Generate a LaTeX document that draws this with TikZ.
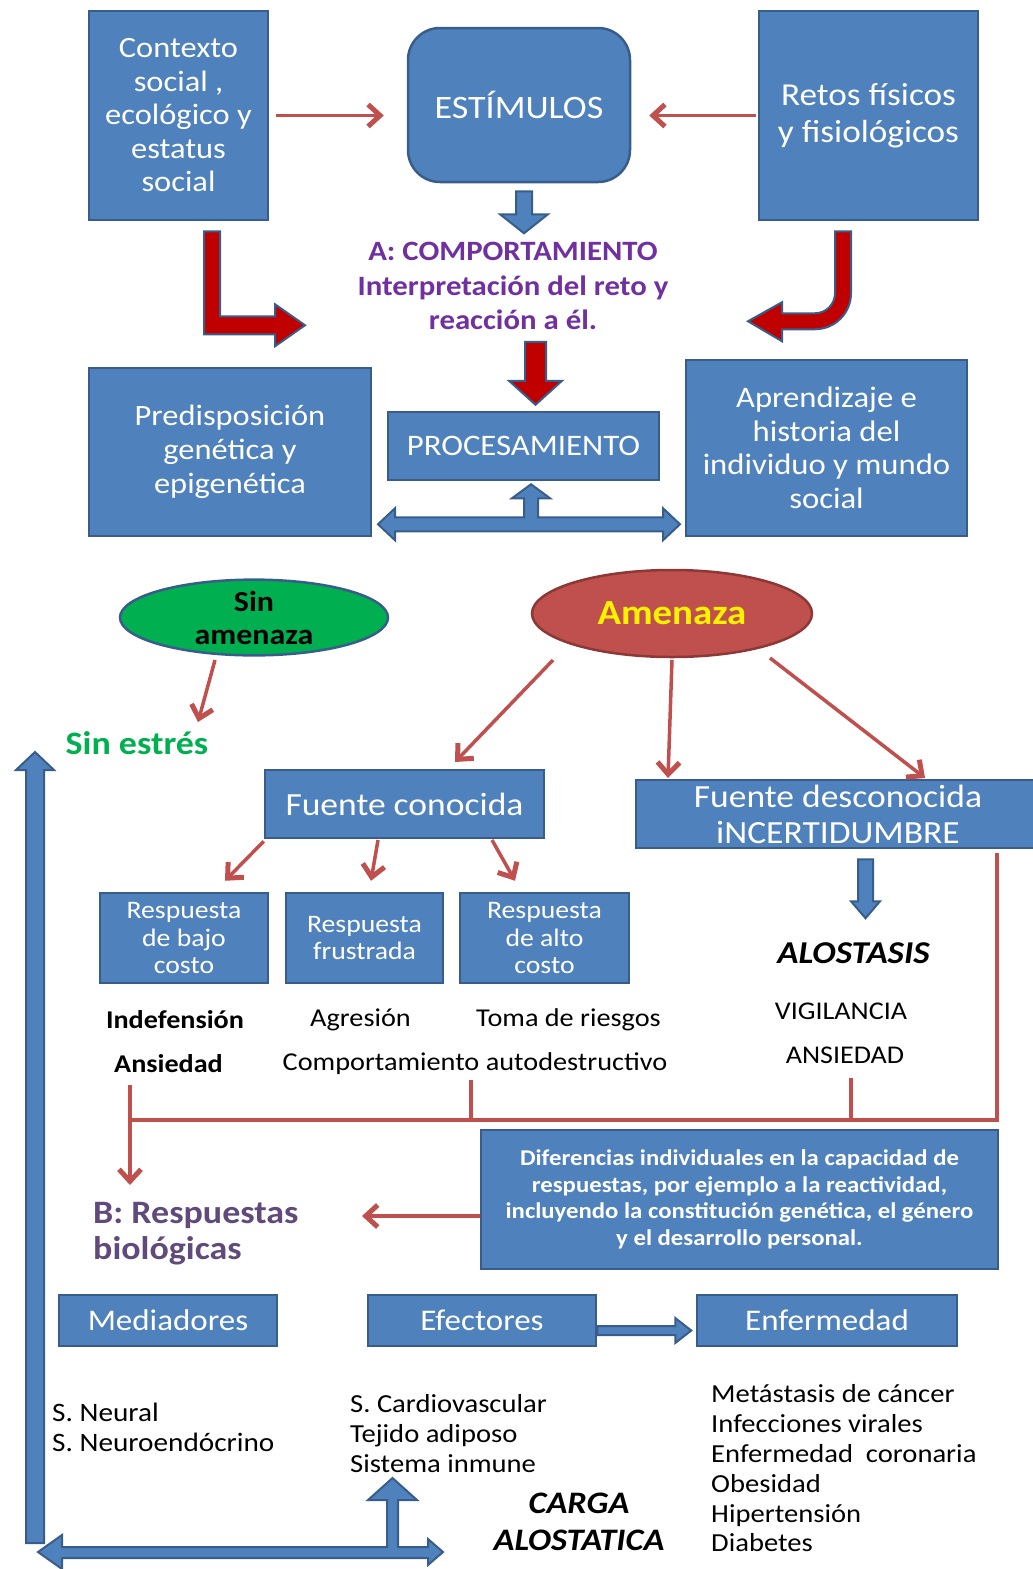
\documentclass[tikz,border=0pt]{standalone}
\usepackage{fontspec}
\setmainfont{Carlito}[FakeStretch=1.1]
\usepackage{xcolor}
\usepackage{tikz}
\usetikzlibrary{arrows.meta}
\usetikzlibrary{shapes.geometric}

\definecolor{boxblue}{HTML}{4F81BD}
\definecolor{boxline}{HTML}{385D8A}
\definecolor{linered}{HTML}{C0504D}
\definecolor{amenline}{HTML}{8C3836}
\definecolor{darkred}{HTML}{C00000}
\definecolor{textpurple}{HTML}{7030A0}
\definecolor{biopurple}{HTML}{604A7B}
\definecolor{greenfill}{HTML}{00B050}
\newcommand{\fsz}[2]{\fontsize{#1}{#2}\selectfont}

\begin{document}
\begin{tikzpicture}[x=1pt,y=-1pt,
	box/.style={draw=boxline,fill=boxblue,line width=2.5pt,text=white,align=center,inner sep=0pt},
	txt/.style={inner sep=0pt,align=center},
	redline/.style={draw=linered,line width=3.5pt},
	redarrow/.style={redline,-{Straight Barb[length=12pt,width=22pt,line width=5pt]}},
	bluearrow/.style={draw=boxline,fill=boxblue,line width=2pt},
	darkarrow/.style={draw=boxline,fill=darkred,line width=2pt}]
	\useasboundingbox (0,0) rectangle (1033,1569);
	\node[box,minimum width=179pt,minimum height=209pt,font=\fsz{29.5}{33.5}] (ctx) at (178.5,115.5) {Contexto\\social ,\\ecológico y\\estatus\\social};
	\node[box,rounded corners=32pt,minimum width=222pt,minimum height=154pt,font=\fsz{32.7}{36}] (est) at (519,105) {ESTÍMULOS};
	\node[box,minimum width=219pt,minimum height=209pt,font=\fsz{32}{37}] (ret) at (868.5,115.5) {Retos físicos\\y fisiológicos};
	\node[txt,text=textpurple,font=\bfseries\fsz{28}{34.5}] (comport) at (513,286) {A: COMPORTAMIENTO\\Interpretación del reto y\\reacción a él.};
	\node[box,minimum width=282pt,minimum height=168pt,font=\fsz{29.5}{34}] (pre) at (230,452) {Predisposición\\genética y\\epigenética};
	\node[box,minimum width=271pt,minimum height=68pt,font=\fsz{29.8}{34}] (proc) at (523.5,446) {PROCESAMIENTO};
	\node[box,minimum width=281pt,minimum height=176pt,font=\fsz{29.7}{33.5}] (apr) at (826.5,448) {Aprendizaje e\\historia del\\individuo y mundo\\social};
	\draw[redarrow,shorten <=7pt,shorten >=23pt] (ctx.east) -- (ctx.east -| est.west);
	\draw[redarrow,shorten <=2pt,shorten >=18pt] (ret.west) -- (ret.west -| est.east);
	\filldraw[bluearrow] ([shift={(-3,8)}]est.south) -- ++(16,0) -- ++(0,23) -- ++(16,0) -- ++(-24,19) -- ++(-24,-19) -- ++(16,0) -- cycle;
	\filldraw[darkarrow] ([shift={(25.5,10)}]ctx.south) -- ++(16,0) -- ++(0,85) -- ++(55,0) -- ++(0,-12) -- ++(30,21) -- ++(-30,21) -- ++(0,-12) -- ++(-71,0) -- cycle;
	\filldraw[darkarrow] ([shift={(-33.5,10)}]ret.south) -- ++(16,0) -- ++(0,62) arc[start angle=0,end angle=90,radius=36] -- ++(-33,0) -- ++(0,12) -- ++(-34,-20) -- ++(34,-19) -- ++(0,11) -- ++(33,0) arc[start angle=90,end angle=0,radius=20] -- cycle;
	\filldraw[darkarrow] ([shift={(1.5,-69)}]proc.north) -- ++(21,0) -- ++(0,39) -- ++(16,0) -- ++(-26.5,24) -- ++(-26.5,-24) -- ++(16,0) -- cycle;
	\filldraw[bluearrow] ([shift={(-145.5,43)}]proc.south) -- ++(17,-16) -- ++(0,9) -- ++(129,0) -- ++(0,-19) -- ++(-12,0) -- ++(19,-14) -- ++(19,14) -- ++(-12,0) -- ++(0,19) -- ++(125,0) -- ++(0,-9) -- ++(17,16) -- ++(-17,16) -- ++(0,-9) -- ++(-268,0) -- ++(0,9) -- cycle;

	\node[ellipse,draw=boxline,fill=greenfill,line width=2.5pt,minimum width=268pt,minimum height=75pt,inner sep=0pt,align=center,font=\bfseries\fsz{29}{33}] (sin) at (254,617.5) {Sin\\amenaza};
	\node[ellipse,draw=amenline,fill=linered,line width=2.5pt,minimum width=280pt,minimum height=87pt,inner sep=0pt,text=yellow,font=\bfseries\fsz{35.3}{40}] (amen) at (672,613.5) {Amenaza};
	\node[txt,text=greenfill,font=\bfseries\fsz{32.7}{36}] (sinestres) at (137,743) {Sin estrés};
	\node[box,minimum width=279pt,minimum height=68pt,font=\fsz{32.3}{36}] (fk) at (404.5,804) {Fuente conocida};
	\node[box,minimum width=404pt,minimum height=68pt,font=\fsz{32.3}{36}] (fd) at (838,814) {Fuente desconocida\\iNCERTIDUMBRE};
	\draw[redarrow] ([shift={(-39,42.5)}]sin.center) -- ([shift={(61,-21)}]sinestres.center);
	\draw[redarrow] ([shift={(-119,46.5)}]amen.center) -- ([shift={(50.5,-42)}]fk.center);
	\draw[redarrow] ([shift={(0,46.5)}]amen.center) -- ([shift={(-170,-36)}]fd.center);
	\draw[redarrow] ([shift={(98,44.5)}]amen.center) -- ([shift={(87,-36)}]fd.center);

	\node[box,minimum width=168pt,minimum height=90pt,font=\fsz{25.2}{27.5}] (bajo) at (184,938) {Respuesta\\de bajo\\costo};
	\node[box,minimum width=157pt,minimum height=90pt,font=\fsz{25.2}{27.5}] (frus) at (364.5,938) {Respuesta\\frustrada};
	\node[box,minimum width=169pt,minimum height=90pt,font=\fsz{25.2}{27.5}] (alto) at (544.5,938) {Respuesta\\de alto\\costo};
	\draw[redarrow] ([shift={(0,2)}]fk.south west) -- ([shift={(41,-11)}]bajo.north);
	\draw[redarrow] ([shift={(-26.5,36)}]fk.center) -- ([shift={(6.5,-11)}]frus.north);
	\draw[redarrow] ([shift={(87.5,36)}]fk.center) -- ([shift={(-29.5,-11)}]alto.north);
	\filldraw[bluearrow] ([shift={(20,10)}]fd.south) -- ++(15,0) -- ++(0,42) -- ++(7,0) -- ++(-14.5,17) -- ++(-14.5,-17) -- ++(7,0) -- cycle;

	\node[txt,font=\bfseries\fsz{25.6}{30}] (indef) at (175,1020) {Indefensión};
	\node[txt,font=\bfseries\fsz{25.6}{30}] (ansi) at (168.5,1064) {Ansiedad};
	\node[txt,font=\fsz{25.7}{30}] (agr) at (360.5,1020) {Agresión};
	\node[txt,font=\fsz{25.7}{30}] (toma) at (568.5,1020) {Toma de riesgos};
	\node[txt,font=\fsz{25.7}{30}] (comp) at (475,1064) {Comportamiento autodestructivo};
	\node[txt,font=\bfseries\itshape\fsz{31.8}{36}] (alos) at (853.5,953) {ALOSTASIS};
	\node[txt,font=\fsz{25.5}{30}] (vig) at (841,1011) {VIGILANCIA};
	\node[txt,font=\fsz{25.5}{30}] (ans2) at (845,1055) {ANSIEDAD};

	\node[box,minimum width=517pt,minimum height=139pt,font=\bfseries\fsz{22.5}{26.5}] (dif) at (739.5,1199.5) {Diferencias individuales en la capacidad de\\respuestas, por ejemplo a la reactividad,\\incluyendo la constitución genética, el género\\y el desarrollo personal.};
	\node[txt,anchor=west,align=left,text=biopurple,font=\bfseries\fsz{32.7}{36}] (bresp) at (93,1234) {B: Respuestas\\biológicas};
	\coordinate (junc) at ([shift={(-38.5,56)}]ansi.center);
	\draw[redline] ([shift={(159,4)}]fd.south) |- (junc);
	\draw[redline] ([shift={(-4,16)}]comp.center) |- (junc);
	\draw[redline] ([shift={(6,23)}]ans2.center) |- (junc);
	\draw[redarrow] ([shift={(-38.5,21)}]ansi.center) -- ([shift={(37,-49)}]bresp.west);
	\draw[redarrow] ([yshift=-16.5pt]dif.west) -- ([shift={(269,-18)}]bresp.west);

	\node[box,minimum width=218pt,minimum height=51pt,font=\fsz{30}{34}] (med) at (168,1320.5) {Mediadores};
	\node[box,minimum width=228pt,minimum height=51pt,font=\fsz{30}{34}] (efe) at (482,1320.5) {Efectores};
	\node[box,minimum width=260pt,minimum height=51pt,font=\fsz{30}{34}] (enf) at (827,1320.5) {Enfermedad};
	\filldraw[bluearrow] ([yshift=-5.5pt]efe.east) -- ++(78,0) -- ++(0,-8) -- ++(16,12.5) -- ++(-16,12.5) -- ++(0,-8) -- ++(-78,0) -- cycle;

	\node[txt,anchor=west,align=left,font=\fsz{26.6}{30}] (neural) at (52,1427) {S. Neural\\S. Neuroendócrino};
	\node[txt,anchor=west,align=left,font=\fsz{26}{30}] (card) at (350,1434) {S. Cardiovascular\\Tejido adiposo\\Sistema inmune};
	\node[txt,anchor=west,align=left,font=\fsz{26}{29.8}] (enfl) at (711,1468.5) {Metástasis de cáncer\\Infecciones virales\\Enfermedad\ \ coronaria\\Obesidad\\Hipertensión\\Diabetes};
	\node[txt,font=\bfseries\itshape\fsz{31.3}{37}] (carga) at (579,1521.5) {CARGA\\ALOSTATICA};
	\filldraw[bluearrow] (26,1543) -- (26,770) -- (16,770) -- (35,752) -- (54,770) -- (44,770) -- (44,1543) -- cycle;
	\filldraw[bluearrow] (38,1552) -- (62,1535) -- (62,1547) -- (387,1547) -- (387,1500) -- (368,1500) -- (392.5,1478) -- (417,1500) -- (398,1500) -- (398,1547) -- (428,1547) -- (428,1539) -- (443,1552) -- (428,1565) -- (428,1558) -- (62,1558) -- (62,1569) -- cycle;
\end{tikzpicture}
\end{document}
